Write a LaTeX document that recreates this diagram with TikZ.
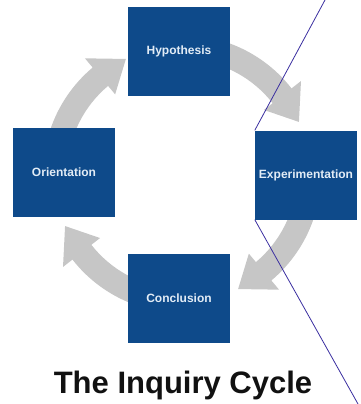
\documentclass[tikz,border=0pt]{standalone}
\usepackage{fontspec}
\setmainfont{Liberation Sans}
\usetikzlibrary{calc}
\pgfdeclarelayer{bg}
\pgfsetlayers{bg,main}
\definecolor{boxblue}{RGB}{14,74,138}
\definecolor{boxtext}{RGB}{226,236,246}
\definecolor{arrowgrey}{RGB}{198,198,198}
\definecolor{lineblue}{RGB}{58,46,160}
\definecolor{titlecol}{RGB}{17,17,17}
\tikzset{
  stagebox/.style={fill=boxblue, draw=none, minimum width=102pt, minimum height=89pt, inner sep=0pt,
    text=boxtext, font=\bfseries\fontsize{12}{14}\selectfont},
  thinline/.style={draw=lineblue, line width=0.8pt},
  cyclearrow/.style={fill=arrowgrey, draw=none}
}
\begin{document}
\begin{tikzpicture}[x=1pt,y=1pt]
\useasboundingbox (0,0) rectangle (360,-404);
\coordinate (C) at (182,-174);
\node[stagebox] (hyp) at (179,-51.5) {Hypothesis};
\node[stagebox] (ori) at (64,-172) {Orientation};
\node[stagebox] (exp) at (306,-175) {Experimentation};
\node[stagebox] (con) at (179,-298.5) {Conclusion};
\node[anchor=base, text=titlecol, font=\bfseries\fontsize{31}{35}\selectfont] (title) at (183,-393) {The Inquiry Cycle};
\coordinate (ltop) at (325,0);
\coordinate (lbot) at (358,-404);
\begin{pgfonlayer}{bg}
% grey circular arrows
\foreach \t in {116,24,-64,-156}{
  \pgfmathsetmacro{\s}{\t+60}
  \pgfmathsetmacro{\b}{\t+14}
  \fill[cyclearrow] ($(C)+(\s:139pt)$) arc[start angle=\s, end angle=\b, radius=139pt]
    -- ($(C)+(\b:151pt)$) -- ($(C)+(\t:128pt)$) -- ($(C)+(\b:104pt)$)
    -- ($(C)+(\b:115pt)$) arc[start angle=\b, end angle=\s, radius=115pt] -- cycle;
}
\draw[thinline] (ltop) -- (exp.north west);
\draw[thinline] (exp.south west) -- (lbot);
\end{pgfonlayer}
\end{tikzpicture}
\end{document}
